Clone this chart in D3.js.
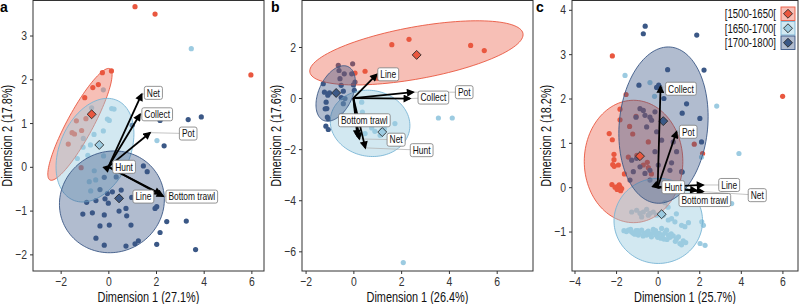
<!DOCTYPE html>
<html>
<head>
<meta charset="utf-8">
<script src="https://cdn.jsdelivr.net/npm/d3@7"></script>
<style>
  body { margin: 0; background: #fff; }
  svg { display: block; font-family: "Liberation Sans", Arial, sans-serif; }
</style>
</head>
<body>
<svg id="chart" width="800" height="304"></svg>
<script>
// Periods and colours
const periods = ["[1500-1650[", "[1650-1700[", "[1700-1800]"];
const periodColors = ["#e9573f", "#9ccbe1", "#3b5886"];
const ellipseStroke = ["#e9573f", "#78b4d5", "#3b5886"];
const ellipseOpacity = [0.38, 0.45, 0.4];

// Loading variables (same order for every panel)
const loadVars = ["Net", "Collect", "Pot", "Hunt", "Line", "Bottom trawl"];

// ---------- panel a ----------
const aAxisTitles = ["Dimension 1 (27.1%)", "Dimension 2 (17.8%)"];
const aXTicks = [-2, 0, 2, 4, 6];
const aYTicks = [-2, -1, 0, 1, 2, 3];
const aXLimits = [-3.16, 6.53];
const aYLimits = [-2.38, 3.80];
const aPts1500 = [[1.12,3.66],[1.96,3.49],[5.98,2.10],[-0.25,2.15],[0.13,2.19],[-0.65,1.81],[-0.42,1.88],[-0.99,1.58],
  [-1.34,1.05],[-0.94,1.10],[-1.12,0.83],[-1.52,0.78],[-1.42,0.75],[-1.68,0.52],[-1.14,-0.02]];
const aPts1650 = [[3.48,2.70],[0.14,1.33],[0.24,1.32],[-0.04,1.09],[0.04,1.06],[-0.21,0.82],[-0.60,0.74],[-1.05,0.65],
  [-0.75,0.50],[-1.06,0.45],[-1.30,0.19],[-0.86,0.26],[2.04,0.60],[-0.80,-0.34],[-0.74,-0.55],[-0.53,-0.30],
  [-0.21,1.76],[-0.70,1.35],[-0.20,0.25],[-0.59,-0.09]];
const aPts1700 = [[3.35,1.08],[3.90,1.14],[2.17,1.06],[2.34,0.48],[1.00,0.95],[1.47,0.02],[1.63,-0.11],[0.33,-0.23],
  [-0.17,-0.24],[-0.35,-0.52],[0.17,-0.57],[0.54,-0.53],[0.98,-0.70],[-0.91,-0.81],[-0.52,-0.77],[-0.14,-0.73],
  [0.00,-0.83],[-1.07,-1.08],[-0.67,-1.05],[-0.17,-1.10],[0.45,-1.01],[0.74,-0.95],[0.77,-1.12],[-0.35,-1.35],
  [0.04,-1.33],[0.95,-1.33],[1.96,-0.95],[2.03,-0.91],[2.45,-1.25],[2.17,-1.50],[-0.52,-1.63],[-0.17,-1.79],
  [0.74,-1.81],[1.12,-1.76],[1.26,-1.69],[2.03,-1.77],[3.27,-1.24],[3.66,-1.89],[-0.04,-0.61]];
const aCentroids = [[-0.70,1.20],[-0.38,0.50],[0.45,-0.72]];
// ellipse: centre x, centre y, first semi-axis (x,y), second semi-axis (x,y)
const aEllipses = [[-1.19,0.97,1.26,1.27,0.48,-0.14],[-0.56,0.38,0.92,1.14,1.35,-0.32],[0.15,-0.80,2.20,0.08,-0.05,1.16]];
const aLoadings = [[1.40,1.66],[1.33,1.20],[1.75,0.78],[0.06,0.03],[2.20,-0.62],[2.30,-0.67]];
const aLabelAt = [[1.89,1.69],[2.05,1.20],[3.35,0.76],[0.66,0.00],[1.47,-0.68],[3.50,-0.68]];

// ---------- panel b ----------
const bAxisTitles = ["Dimension 1 (26.4%)", "Dimension 2 (17.6%)"];
const bXTicks = [-2, 0, 2, 4, 6];
const bYTicks = [-6, -4, -2, 0, 2];
const bXLimits = [-2.15, 7.52];
const bYLimits = [-6.77, 3.82];
const bPts1500 = [[1.61,2.09],[2.33,2.30],[4.91,2.06],[5.48,1.86],[0.49,1.05],[1.02,0.78],[0.07,0.98]];
const bPts1650 = [[2.09,-6.44],[3.56,-0.78],[4.14,-0.78],[0.35,-0.16],[0.38,-0.55],[0.77,-1.17],[1.19,-1.26],
  [1.74,-1.00],[0.49,-1.39],[1.12,-1.46],[0.24,-0.87],[0.77,-1.07],[1.30,-1.20],[0.90,-1.30]];
const bPts1700 = [[-0.63,1.28],[-0.03,1.34],[-0.60,1.08],[-0.56,0.76],[-0.51,0.50],[-0.42,0.27],[-0.35,-0.02],
  [-0.49,-0.68],[0.07,0.63],[0.00,0.52],[0.04,0.30],[-0.51,0.02],[-0.42,-0.22],[-0.07,0.95],[-0.38,0.95],
  [-1.26,0.56],[-1.21,0.23],[-1.07,0.11],[-1.14,-0.16],[-1.11,-0.41],[-1.09,-0.74],[-1.05,-0.81],
  [-1.15,-1.10],[-1.05,-1.23],[-1.00,0.20],[-1.18,-0.42]];
const bCentroids = [[2.65,1.69],[1.21,-1.33],[-0.72,0.20]];
const bEllipses = [[2.64,1.77,4.46,0.76,0.20,-1.00],[0.70,-0.99,1.65,-0.27,-0.24,-1.27],[-0.74,0.18,0.52,1.05,0.64,-0.28]];
const bLoadings = [[0.25,-1.60],[2.37,-0.02],[2.51,0.23],[0.50,-1.95],[0.98,0.93],[0.17,-1.50]];
const bLabelAt = [[1.79,-1.63],[3.35,0.02],[4.64,0.23],[2.86,-2.04],[1.46,0.93],[0.46,-0.87]];

// ---------- panel c ----------
const cAxisTitles = ["Dimension 1 (25.7%)", "Dimension 2 (18.2%)"];
const cXTicks = [-4, -2, 0, 2, 4, 6];
const cYTicks = [-1, 0, 1, 2, 3, 4];
const cXLimits = [-4.12, 6.75];
const cYLimits = [-1.89, 4.21];
const cPts1500 = [[-2.18,2.96],[6.01,2.05],[-1.52,2.09],[-1.81,1.76],[-1.35,1.37],[-2.33,1.21],[-2.18,1.07],
  [-2.10,0.74],[-2.10,0.62],[-2.16,0.51],[-1.89,0.50],[-1.41,0.68],[-2.20,0.06],[-1.81,0.01],[-1.85,0.05],
  [-1.73,-0.03],[-1.95,-0.05],[-1.78,-0.08],[-1.90,0.02],[-1.04,1.60],[-0.45,1.02],[-0.69,0.50],[1.76,0.97],
  [2.16,0.76],[-2.09,0.47],[-0.50,0.56],[-0.45,0.44],[-1.00,0.72],[-1.81,1.52],[-0.30,0.30],[-1.20,1.20],
  [-1.60,0.30],[-2.05,0.00]];
const cPts1650 = [[-1.62,-0.98],[-1.41,-0.97],[-1.25,-1.01],[-1.17,-1.04],[-1.04,-0.98],[-0.93,-1.08],[-0.88,-1.03],
  [-0.77,-0.97],[-0.64,-1.04],[-0.53,-1.08],[-0.50,-1.01],[-0.37,-1.06],[-0.21,-1.03],[-0.21,-0.95],[-0.08,-1.08],
  [0.08,-1.04],[0.19,-0.93],[0.24,-1.08],[0.35,-1.03],[0.43,-0.97],[0.51,-1.08],[0.59,-1.13],[0.75,-1.10],
  [0.91,-1.16],[1.07,-1.27],[1.23,-1.21],[-1.50,-1.00],[-1.30,-0.95],[-1.10,-1.06],[-0.95,-0.98],[-0.70,-1.10],
  [-0.45,-0.99],[-0.30,-1.12],[-0.10,-0.98],[0.00,-1.13],[0.15,-1.15],[0.30,-1.17],[0.45,-1.18],[0.65,-1.05],
  [0.85,-1.22],[1.00,-1.12],[1.15,-1.30],[1.35,-1.25],[-1.25,-0.56],[-1.01,-0.52],[-0.85,-0.59],[-0.69,-0.56],
  [-0.53,-0.50],[-0.37,-0.59],[-0.21,-0.56],[-0.77,-0.67],[-0.45,-0.63],[-0.05,-0.63],[0.27,-0.63],[0.51,-0.74],
  [0.67,-0.71],[0.83,-0.78],[1.48,-0.80],[2.12,-0.78],[2.20,-0.86],[2.04,-1.27],[2.28,-1.31],[1.15,-0.86],
  [1.31,-0.89],[0.50,-0.45],[0.35,-0.35],[0.90,-0.60],[-1.57,2.52],[-0.37,2.36],[2.84,1.83],[3.91,0.76],
  [2.11,0.68],[3.56,-0.37],[-0.15,2.05]];
const cPts1700 = [[-0.60,3.63],[-0.69,3.46],[1.88,3.43],[0.48,2.65],[2.23,2.64],[-0.05,2.25],[0.11,2.25],[0.05,2.30],
  [1.39,1.88],[1.18,1.67],[2.03,1.55],[2.11,1.02],[1.18,0.34],[-0.29,1.51],[-0.85,1.77],[-0.69,1.73],[-0.61,1.62],
  [-0.37,1.58],[-0.13,1.70],[-1.04,1.58],[-0.05,1.25],[0.19,1.06],[-0.53,1.36],[-1.01,0.65],[-1.25,0.61],
  [-0.85,0.46],[-1.17,0.35],[-0.61,0.31],[-0.37,0.38],[-0.13,0.80],[0.03,0.50],[-1.33,0.16],[-0.37,0.16],
  [0.75,1.02],[0.91,0.80],[0.59,0.38],[1.15,0.35],[0.67,0.55],[0.30,2.00],[-0.90,2.30]];
const cCentroids = [[-0.85,0.70],[0.19,-0.61],[0.27,1.49]];
const cEllipses = [[-1.16,0.58,2.37,0.00,0.00,1.38],[0.03,-0.76,2.13,0.00,0.00,0.96],[0.28,1.40,0.34,1.76,2.12,-0.09]];
const cLoadings = [[2.19,-0.10],[0.14,2.27],[0.91,1.25],[0.05,-0.02],[2.19,0.05],[1.87,-0.07]];
const cLabelAt = [[4.79,-0.18],[1.12,2.22],[1.47,1.25],[0.75,0.00],[3.44,0.05],[2.27,-0.29]];

// Layout
const plotTop = 0.5, plotBottom = 271;
const svg = d3.select("#chart");

// squeeze text horizontally, like a condensed face
function condense(sel, f = 0.8) {
  sel.each(function () {
    const w = this.getComputedTextLength();
    d3.select(this).attr("textLength", w * f).attr("lengthAdjust", "spacingAndGlyphs");
  });
}

const defs = svg.append("defs");
defs.append("marker")
  .attr("id", "arrow")
  .attr("viewBox", "0 0 10 10")
  .attr("refX", 8).attr("refY", 5)
  .attr("markerWidth", 9).attr("markerHeight", 8)
  .attr("markerUnits", "userSpaceOnUse")
  .attr("orient", "auto")
  .append("path")
  .attr("d", "M0,0 L10,5 L0,10 z")
  .attr("fill", "#000");

const panels = [
  { letter: "a", letterX: 0, left: 33, right: 264, xLim: aXLimits, yLim: aYLimits, xTicks: aXTicks, yTicks: aYTicks,
    titles: aAxisTitles, pts: [aPts1500, aPts1650, aPts1700], centroids: aCentroids, ellipses: aEllipses,
    loadings: aLoadings, labelAt: aLabelAt },
  { letter: "b", letterX: 271, left: 302, right: 533, xLim: bXLimits, yLim: bYLimits, xTicks: bXTicks, yTicks: bYTicks,
    titles: bAxisTitles, pts: [bPts1500, bPts1650, bPts1700], centroids: bCentroids, ellipses: bEllipses,
    loadings: bLoadings, labelAt: bLabelAt },
  { letter: "c", letterX: 536, left: 572, right: 798, xLim: cXLimits, yLim: cYLimits, xTicks: cXTicks, yTicks: cYTicks,
    titles: cAxisTitles, pts: [cPts1500, cPts1650, cPts1700], centroids: cCentroids, ellipses: cEllipses,
    loadings: cLoadings, labelAt: cLabelAt, legend: true }
];

const diamond = d3.symbol().type(d3.symbolSquare).size(40);

panels.forEach(p => {
  const g = svg.append("g");
  const x = d3.scaleLinear().domain(p.xLim).range([p.left, p.right]);
  const y = d3.scaleLinear().domain(p.yLim).range([plotBottom, plotTop]);

  const clipId = "clip-" + p.letter;
  defs.append("clipPath").attr("id", clipId)
    .append("rect")
    .attr("x", p.left).attr("y", plotTop)
    .attr("width", p.right - p.left).attr("height", plotBottom - plotTop);

  const plot = g.append("g").attr("clip-path", `url(#${clipId})`);

  // points
  p.pts.forEach((set, k) => {
    plot.append("g").selectAll("circle")
      .data(set)
      .enter()
      .append("circle")
      .attr("cx", d => x(d[0]))
      .attr("cy", d => y(d[1]))
      .attr("r", 2.6)
      .attr("fill", periodColors[k]);
  });

  // ellipses
  const steps = d3.range(0, 2 * Math.PI, Math.PI / 60);
  const ellLine = d3.line().curve(d3.curveLinearClosed);
  p.ellipses.forEach((e, k) => {
    const ring = steps.map(t => [
      x(e[0] + e[2] * Math.cos(t) + e[4] * Math.sin(t)),
      y(e[1] + e[3] * Math.cos(t) + e[5] * Math.sin(t))
    ]);
    plot.append("path")
      .attr("d", ellLine(ring))
      .attr("fill", periodColors[k])
      .attr("fill-opacity", ellipseOpacity[k])
      .attr("stroke", ellipseStroke[k])
      .attr("stroke-width", 0.9);
  });

  // centroids
  plot.selectAll(".centroid")
    .data(p.centroids)
    .enter()
    .append("path")
    .attr("class", "centroid")
    .attr("d", diamond)
    .attr("transform", d => `translate(${x(d[0])},${y(d[1])}) rotate(45)`)
    .attr("fill", (d, i) => periodColors[i])
    .attr("stroke", "#222")
    .attr("stroke-width", 0.8);

  // connector segments (drawn under the labels)
  plot.selectAll(".seg")
    .data(p.loadings)
    .enter()
    .append("line")
    .attr("x1", d => x(d[0])).attr("y1", d => y(d[1]))
    .attr("x2", (d, i) => x(p.labelAt[i][0])).attr("y2", (d, i) => y(p.labelAt[i][1]))
    .attr("stroke", "#b5b5b5")
    .attr("stroke-width", 0.8);

  // loading arrows
  plot.selectAll(".arrow")
    .data(p.loadings)
    .enter()
    .append("line")
    .attr("x1", x(0)).attr("y1", y(0))
    .attr("x2", d => x(d[0])).attr("y2", d => y(d[1]))
    .attr("stroke", "#000")
    .attr("stroke-width", 1.8)
    .attr("marker-end", "url(#arrow)");

  // labels
  const lab = plot.selectAll(".lab")
    .data(loadVars)
    .enter()
    .append("g")
    .attr("transform", (d, i) => `translate(${x(p.labelAt[i][0])},${y(p.labelAt[i][1])})`);
  lab.append("rect")
    .attr("rx", 2).attr("ry", 2)
    .attr("fill", "#fff")
    .attr("stroke", "#7a7a7a")
    .attr("stroke-width", 0.8);
  lab.append("text")
    .attr("text-anchor", "middle")
    .attr("dy", "0.36em")
    .attr("font-size", 10.5)
    .attr("fill", "#111")
    .text(d => d)
    .call(condense);
  lab.each(function () {
    const w = +d3.select(this).select("text").attr("textLength");
    d3.select(this).select("rect")
      .attr("x", -w / 2 - 2.5).attr("y", -6.5)
      .attr("width", w + 5).attr("height", 13);
  });

  // frame
  g.append("rect")
    .attr("x", p.left).attr("y", plotTop)
    .attr("width", p.right - p.left).attr("height", plotBottom - plotTop)
    .attr("fill", "none")
    .attr("stroke", "#333")
    .attr("stroke-width", 1);

  // axes
  const xAxis = g.append("g")
    .attr("transform", `translate(0,${plotBottom})`)
    .call(d3.axisBottom(x).tickValues(p.xTicks).tickSize(3).tickPadding(2.5).tickFormat(d3.format("d")));
  const yAxis = g.append("g")
    .attr("transform", `translate(${p.left},0)`)
    .call(d3.axisLeft(y).tickValues(p.yTicks).tickSize(3).tickPadding(3).tickFormat(d3.format("d")));
  [xAxis, yAxis].forEach(ax => {
    ax.select(".domain").remove();
    ax.selectAll("line").attr("stroke", "#333");
    ax.attr("font-family", null);
    ax.selectAll("text").attr("font-size", 13).attr("fill", "#333").call(condense);
  });

  g.append("text")
    .attr("x", (p.left + p.right) / 2)
    .attr("y", 301.5)
    .attr("text-anchor", "middle")
    .attr("font-size", 14)
    .attr("fill", "#111")
    .text(p.titles[0])
    .call(condense, 0.78);

  g.append("text")
    .attr("transform", `translate(${p.left - 21.5},${(plotTop + plotBottom) / 2}) rotate(-90)`)
    .attr("text-anchor", "middle")
    .attr("font-size", 14)
    .attr("fill", "#111")
    .text(p.titles[1])
    .call(condense, 0.78);

  g.append("text")
    .attr("x", p.letterX)
    .attr("y", 12)
    .attr("font-size", 14)
    .attr("font-weight", "bold")
    .text(p.letter);

  // legend
  if (p.legend) {
    const leg = g.append("g").attr("transform", "translate(781,7)");
    const row = leg.selectAll("g")
      .data(periods)
      .enter()
      .append("g")
      .attr("transform", (d, i) => `translate(0,${i * 14.5})`);
    row.append("rect")
      .attr("width", 14).attr("height", 13.5)
      .attr("fill", (d, i) => periodColors[i])
      .attr("fill-opacity", (d, i) => ellipseOpacity[i])
      .attr("stroke", (d, i) => ellipseStroke[i])
      .attr("stroke-width", 0.9);
    row.append("path")
      .attr("d", diamond)
      .attr("transform", "translate(7,6.75) rotate(45)")
      .attr("fill", (d, i) => periodColors[i])
      .attr("stroke", "#222")
      .attr("stroke-width", 0.8);
    row.append("text")
      .attr("x", -5)
      .attr("y", 6.75)
      .attr("dy", "0.36em")
      .attr("text-anchor", "end")
      .attr("font-size", 12)
      .attr("fill", "#111")
      .text(d => d)
      .call(condense);
  }
});
</script>
</body>
</html>
